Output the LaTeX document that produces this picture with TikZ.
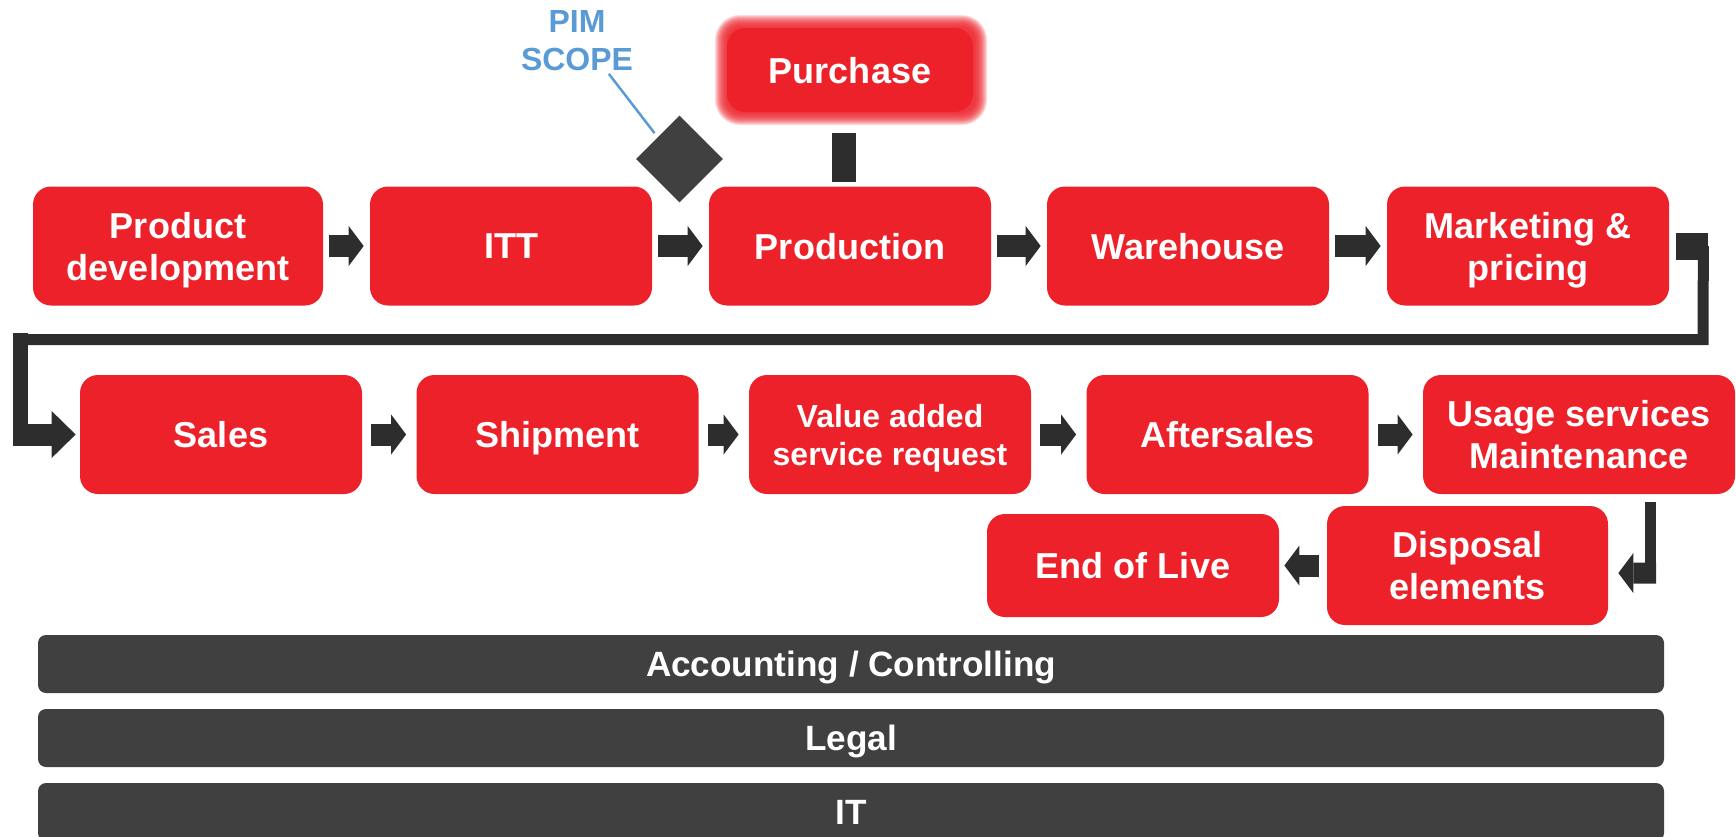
\documentclass[tikz,border=0pt]{standalone}
\usepackage{fontspec}
\setmainfont{Liberation Sans}
\usetikzlibrary{arrows.meta,shapes.geometric}

\definecolor{procred}{HTML}{ED2129}
\definecolor{arrowdark}{HTML}{2D2D2D}
\definecolor{bardark}{HTML}{404040}
\definecolor{scopeblue}{HTML}{5B9BD5}

\newlength{\px}
\setlength{\px}{0.02cm}

\tikzset{
  procbox/.style={fill=procred, rounded corners=18\px, text=white, align=center,
    font=\bfseries\fontsize{20.5}{23.9}\selectfont, minimum width=282\px,
    minimum height=119\px, inner sep=0pt, text depth=0pt},
  barbox/.style={fill=bardark, rounded corners=8\px, text=white,
    font=\bfseries\fontsize{20}{24}\selectfont, minimum width=1626\px,
    minimum height=58\px, inner sep=0pt, text height=25\px, text depth=0pt},
  flowarrow/.style={draw=arrowdark, line width=22\px,
    -{Triangle[length=0.3cm,width=0.8cm,line width=0pt]}},
  bendline/.style={draw=arrowdark, line width=11\px}
}

\begin{document}
\begin{tikzpicture}[x=\px, y=-\px]
\useasboundingbox (0,0) rectangle (1736,836);

% first row of the chain
\node[procbox, minimum width=290\px] (pd) at (178,246) {Product\\development};
\node[procbox] (itt) at (511,246) {ITT};
\node[procbox] (prod) at (850,246) {Production};
\node[procbox] (wh) at (1188,246) {Warehouse};
\node[procbox] (mkt) at (1528,246) {Marketing \&\\pricing};

% second row
\node[procbox] (sales) at (221,434.5) {Sales};
\node[procbox] (ship) at (557.5,434.5) {Shipment};
\node[procbox, font=\bfseries\fontsize{18.2}{21.6}\selectfont] (vas) at (890,434.5) {Value added\\service request};
\node[procbox] (after) at (1227.5,434.5) {Aftersales};
\node[procbox, minimum width=312\px] (usage) at (1579,434.5) {Usage services\\Maintenance};

% third row, running backwards
\node[procbox, minimum width=292\px, minimum height=103\px] (eol) at (1133,565.5) {End of Live};
\node[procbox, minimum width=281\px] (disp) at (1467.5,565.5) {Disposal\\elements};

% purchase box with a soft edge
\foreach \g in {7,6,...,-5}
  \fill[procred, opacity=0.16, rounded corners=18\px+\g\px] (722-\g,22-\g) rectangle (980+\g,118+\g);
\node[procbox, minimum width=246\px, minimum height=84\px] (pur) at (850,70) {Purchase};

% PIM scope marker and its label
\node[diamond, fill=bardark, minimum width=87\px, minimum height=87\px, inner sep=0pt] (pimmark) at (679.5,159) {};
\node[text=scopeblue, align=center, inner sep=0pt, font=\bfseries\fontsize{18.2}{21.6}\selectfont] (pim) at (577,41) {PIM\\SCOPE};
\draw[scopeblue, line width=2.5\px, shorten <=3\px, shorten >=5\px] ([xshift=30\px]pim.south) -- (pimmark.north west);

% purchase feeds production
\draw[arrowdark, line width=24\px, shorten <=21\px, shorten >=4\px] ([xshift=-6\px]pur.south) -- ([xshift=-6\px]prod.north);

% arrows along the rows
\foreach \a/\b in {pd/itt, itt/prod, prod/wh, wh/mkt}
  \draw[flowarrow, shorten <=6\px, shorten >=6\px] (\a) -- (\b);
\foreach \a/\b in {sales/ship, ship/vas, vas/after, after/usage}
  \draw[flowarrow, shorten <=9\px, shorten >=10\px] (\a) -- (\b);

% from the end of the first row back to sales
\coordinate (mktcorner) at (1703,339.5);
\coordinate (salestop) at (20.5,333);
\coordinate (salesfoot) at (20.5,445);
\draw[arrowdark, line width=27\px] ([xshift=7\px]mkt.east) -- ++(32,0);
\draw[bendline] ([xshift=34\px]mkt.east) -- (mktcorner) -- (salestop |- mktcorner);
\draw[arrowdark, line width=15\px] (salestop) -- (salesfoot);
\draw[flowarrow, -{Triangle[length=0.48cm,width=0.94cm,line width=0pt]}, shorten >=4\px] ([xshift=-67\px]sales.west) -- (sales.west);

% down from usage to disposal, then to the end
\coordinate (usagedrop) at (1650.5,502);
\coordinate (usagecorner) at (1650.5,583);
\draw[bendline] (usagedrop) -- (usagecorner);
\draw[flowarrow, line width=21\px, shorten >=10\px] ([xshift=5.5\px,yshift=10\px]usagecorner) -- ([yshift=-7.5\px]disp.east);
\draw[flowarrow, shorten <=8\px, shorten >=5\px] (disp) -- (eol);

% supporting functions underneath
\foreach \y/\t in {664/{Accounting / Controlling}, 738/Legal, 812/IT}
  \node[barbox] (bar\y) at (851,\y) {\t};
\end{tikzpicture}
\end{document}
